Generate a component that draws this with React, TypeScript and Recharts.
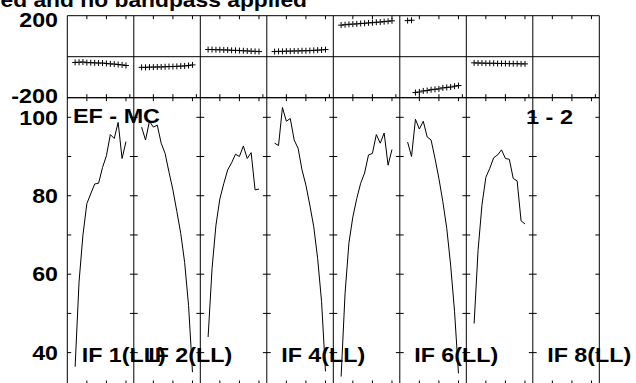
import { ComposedChart, Line, Scatter, XAxis, YAxis, ReferenceLine } from 'recharts'

const WIDTH = 636
const HEIGHT = 383
const CHART_H = 386
const FONT = "'Liberation Sans', Arial, Helvetica, sans-serif"

// plot frame (px)
const PLOT_LEFT = 67.3
const PLOT_RIGHT = 599.3
const PHASE_TOP = 15.7
const PHASE_BOTTOM = 97.7
const AMP_BOTTOM = 384

// each IF box is 17 channel units wide, channels 2..15 are plotted
const IF_SPAN = 17
const IF_COUNT = 8
const X_MAX = IF_SPAN * IF_COUNT
const channels = [2, 3, 4, 5, 6, 7, 8, 9, 10, 11, 12, 13, 14, 15]
const channelTicks = [5, 10, 15]
const phaseBottomTicks = [5, 10, 15, 16]

const phaseTicks = [-200, 200]
const ampTicks = [40, 60, 80, 100]
const ampMinorTicks = [40, 50, 60, 70, 80, 90, 100]

const ifLabels = ['IF 1(LL)', 'IF 2(LL)', 'IF 4(LL)', 'IF 6(LL)', 'IF 8(LL)']
const ifLabelBox = [0, 1, 3, 5, 7]

// amplitude per IF
const ampIF1 = [36.4, 58, 70, 78, 80.5, 83, 83.2, 87.2, 90.2, 95.6, 94.6, 98.7, 89.5, 93.8]
const ampIF2 = [97.5, 94.2, 99, 97.5, 98, 93.4, 90.8, 86, 81.5, 76, 70.4, 63, 52, 35]
const ampIF3 = [44, 61.4, 72.5, 79.2, 83.1, 86.6, 88.4, 90.6, 90, 92.7, 89.5, 91, 81.5, 81.7]
const ampIF4 = [93.4, 92.8, 102.5, 99, 99.7, 94.2, 92.1, 86.6, 82.7, 77.6, 72.1, 64, 53, 35.2]
const ampIF5 = [33.9, 55, 68, 74.6, 79.3, 83.2, 85.8, 90.4, 90.8, 95.6, 93.4, 96, 87.8, 91.8]
const ampIF6 = [93.7, 90, 99.5, 97, 99, 95, 94.2, 89.5, 84.4, 78.5, 71.7, 62.3, 50.4, 34.7]
const ampIF7 = [47.4, 66, 77.6, 84.7, 87, 89.7, 90.4, 91.7, 89.5, 89.3, 84.4, 83.8, 73.6, 72.8]
const ampIF8: number[] = []

// phase per IF (degrees)
const phaseIF1 = [-28, -27, -26, -29, -29, -30, -31, -31, -33, -35, -36, -38, -40, -43]
const phaseIF2 = [-52, -52, -51, -51, -50, -50, -49, -48, -48, -47, -46, -45, -43, -40]
const phaseIF3 = [35, 35, 34, 34, 33, 33, 31, 31, 30, 29, 28, 27, 26, 25]
const phaseIF4 = [25, 26, 26, 27, 27, 28, 28, 29, 29, 30, 31, 32, 33, 35]
const phaseIF5 = [154, 156, 158, 159, 160, 162, 163, 165, 166, 168, 169, 171, 173, 175]
const phaseIF6 = [176, 178, -175, -172, -167, -165, -161, -159, -157, -152, -150, -148, -144, -141]
const phaseIF7 = [-30, -31, -31, -32, -32, -32, -33, -33, -33, -34, -34, -34, -35, -35]
const phaseIF8: number[] = []

const ampByIF = [ampIF1, ampIF2, ampIF3, ampIF4, ampIF5, ampIF6, ampIF7, ampIF8]
const phaseByIF = [phaseIF1, phaseIF2, phaseIF3, phaseIF4, phaseIF5, phaseIF6, phaseIF7, phaseIF8]

const ampSeries = ampByIF.map((vals, i) => vals.map((v, j) => ({ x: i * IF_SPAN + channels[j], amp: v })))
const phaseSeries = phaseByIF.map((vals, i) => vals.map((v, j) => ({ x: i * IF_SPAN + channels[j], phase: v })))

const boxes = Array.from({ length: IF_COUNT + 1 }, (_, i) => i * IF_SPAN)
const repeatTicks = (t: number[]) => boxes.slice(0, IF_COUNT).flatMap((b) => t.map((c) => b + c))

const textStyle = { fontFamily: FONT, fontWeight: 700, fontSize: 20, fill: '#000' }

// digit-width based stretch, the original lettering is wide
const labelWidth = (s: string) => s.replace('-', '').length * 12.9 + (s.includes('-') ? 8 : 0)

const Cross = (p: any) => (
  <path
    d={`M${p.cx - 3},${p.cy}H${p.cx + 3}M${p.cx},${p.cy - 3}V${p.cy + 3}`}
    stroke="#000"
    strokeWidth={1}
    fill="none"
  />
)

const PhaseLabel = (p: any) => {
  const v = p.payload.value
  const s = String(v)
  return (
    <text x={58} y={p.y + (v > 0 ? 11.3 : 5.5)} textAnchor="end" textLength={labelWidth(s)} lengthAdjust="spacingAndGlyphs" style={textStyle}>
      {s}
    </text>
  )
}

const AmpLabel = (p: any) => {
  const s = String(p.payload.value)
  return (
    <text x={58} y={p.y + 7.3} textAnchor="end" textLength={labelWidth(s)} lengthAdjust="spacingAndGlyphs" style={textStyle}>
      {s}
    </text>
  )
}

const blank = () => ''

function PhaseChart() {
  return (
    <ComposedChart
      width={WIDTH}
      height={CHART_H}
      margin={{ top: PHASE_TOP, right: WIDTH - PLOT_RIGHT, bottom: CHART_H - PHASE_BOTTOM, left: 0 }}
    >
      <XAxis dataKey="x" type="number" domain={[0, X_MAX]} allowDataOverflow ticks={repeatTicks(phaseBottomTicks)} mirror tickSize={3.5} stroke="#000" tickFormatter={blank} />
      <XAxis xAxisId="top" orientation="top" dataKey="x" type="number" domain={[0, X_MAX]} allowDataOverflow ticks={repeatTicks(channelTicks)} mirror tickSize={3.5} stroke="#000" tickFormatter={blank} />
      <YAxis dataKey="phase" type="number" domain={[-200, 200]} ticks={phaseTicks} width={PLOT_LEFT} tickLine={false} stroke="#000" tick={PhaseLabel} />
      <ReferenceLine y={0} stroke="#000" />
      {boxes.slice(1).map((b) => (
        <ReferenceLine key={b} x={b} stroke="#000" />
      ))}
      {phaseSeries.map((d, i) =>
        d.length ? <Scatter key={i} data={d} dataKey="phase" shape={Cross} isAnimationActive={false} /> : null
      )}
    </ComposedChart>
  )
}

function AmpChart() {
  return (
    <ComposedChart
      width={WIDTH}
      height={CHART_H}
      margin={{ top: PHASE_BOTTOM, right: WIDTH - PLOT_RIGHT, bottom: CHART_H - AMP_BOTTOM, left: 0 }}
    >
      <XAxis dataKey="x" type="number" domain={[0, X_MAX]} allowDataOverflow ticks={repeatTicks(channelTicks)} mirror tickSize={3.5} stroke="#000" tickFormatter={blank} />
      <XAxis xAxisId="top" orientation="top" dataKey="x" type="number" domain={[0, X_MAX]} allowDataOverflow ticks={repeatTicks(channelTicks)} mirror tickSize={3.5} stroke="#000" tickFormatter={blank} />
      <YAxis type="number" domain={[32, 105]} ticks={ampTicks} width={PLOT_LEFT} tickLine={false} stroke="#000" tick={AmpLabel} />
      {boxes.slice(1).map((b) => (
        <ReferenceLine key={b} x={b} stroke="#000" />
      ))}
      {boxes.flatMap((b) =>
        ampMinorTicks.map((v) => (
          <ReferenceLine
            key={`${b}-${v}`}
            segment={[{ x: Math.max(0, b - 1), y: v }, { x: Math.min(X_MAX, b + 1), y: v }]}
            stroke="#000"
          />
        ))
      )}
      {ampSeries.map((d, i) =>
        d.length ? (
          <Line key={i} data={d} dataKey="amp" type="linear" stroke="#000" strokeWidth={1} dot={false} isAnimationActive={false} />
        ) : null
      )}
    </ComposedChart>
  )
}

export default function App() {
  const boxW = (PLOT_RIGHT - PLOT_LEFT) / IF_COUNT
  return (
    <div style={{ position: 'absolute', left: 0, top: 0, width: WIDTH, height: HEIGHT, overflow: 'hidden', background: '#fff' }}>
      <div style={{ position: 'absolute', left: 0, top: 0 }}>
        <AmpChart />
      </div>
      <div style={{ position: 'absolute', left: 0, top: 0 }}>
        <PhaseChart />
      </div>
      <svg width={WIDTH} height={HEIGHT} style={{ position: 'absolute', left: 0, top: 0, pointerEvents: 'none' }}>
        <text x={0.5} y={6.5} textLength={306.5} lengthAdjust="spacingAndGlyphs" style={textStyle}>
          ed and no bandpass applied
        </text>
        <text x={73} y={123} textLength={87} lengthAdjust="spacingAndGlyphs" style={textStyle}>
          EF - MC
        </text>
        <text x={526} y={123.5} textLength={47} lengthAdjust="spacingAndGlyphs" style={textStyle}>
          1 - 2
        </text>
        {ifLabels.map((s, i) => (
          <text
            key={s}
            x={PLOT_LEFT + ifLabelBox[i] * boxW + 14.4}
            y={362}
            textLength={84}
            lengthAdjust="spacingAndGlyphs"
            style={textStyle}
          >
            {s}
          </text>
        ))}
      </svg>
    </div>
  )
}
